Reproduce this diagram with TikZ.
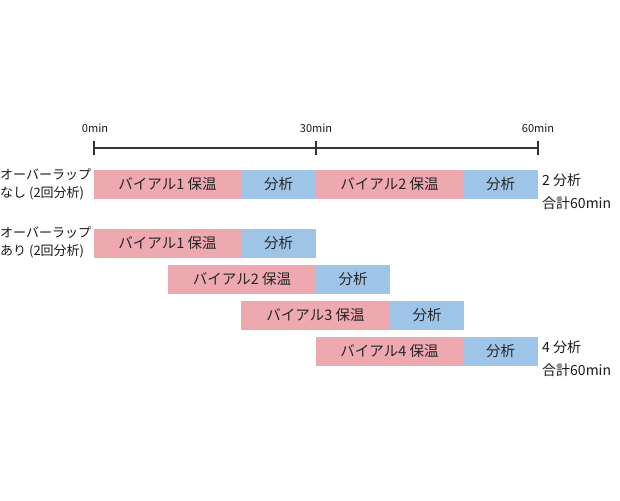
\documentclass[tikz,border=0pt]{standalone}
\usepackage{fontspec}
\setmainfont{Noto Sans CJK JP}
\begin{document}
\begin{tikzpicture}[x=1pt,y=-1pt,
  bar/.style={draw=none,inner sep=0pt,minimum height=29pt,text=black!85,font=\fontsize{14.5}{16}\selectfont},
  warm/.style={bar,fill=pinkc},
  ana/.style={bar,fill=bluec},
  lbl/.style={text=black!90,font=\fontsize{13}{18}\selectfont,inner sep=0pt,align=left},
  sum/.style={text=black!90,font=\fontsize{14}{22.5}\selectfont,inner sep=0pt,align=left},
  tick/.style={text=black!90,font=\fontsize{11}{12}\selectfont,inner sep=0pt}]
\definecolor{pinkc}{RGB}{238,168,176}
\definecolor{bluec}{RGB}{158,196,232}
\useasboundingbox[fill=white] (0,0) rectangle (620,500);
% axis
\coordinate (a0) at (94,148);
\coordinate (a30) at (316,148);
\coordinate (a60) at (538,148);
\draw[line width=1.3pt,black!80] (a0) -- (a60);
\foreach \c in {a0,a30,a60}{\draw[line width=1.3pt,black!80] ([yshift=-7pt]\c) -- ([yshift=7pt]\c);}
\node[tick] (t0) at (95,128) {0min};
\node[tick] (t30) at (316,128) {30min};
\node[tick] (t60) at (538,128) {60min};
% row 1
\node[warm,minimum width=147pt] (r1a) at (167.5,184.5) {バイアル1 保温};
\node[ana,minimum width=75pt] (r1b) at (278.5,184.5) {分析};
\node[warm,minimum width=147pt] (r1c) at (389.5,184.5) {バイアル2 保温};
\node[ana,minimum width=75pt] (r1d) at (500.5,184.5) {分析};
% row 2
\node[warm,minimum width=147pt] (r2a) at (167.5,243) {バイアル1 保温};
\node[ana,minimum width=75pt] (r2b) at (278.5,243) {分析};
% row 3
\node[warm,minimum width=148pt] (r3a) at (242,279) {バイアル2 保温};
\node[ana,minimum width=74pt] (r3b) at (353,279) {分析};
% row 4
\node[warm,minimum width=149pt] (r4a) at (315.5,315) {バイアル3 保温};
\node[ana,minimum width=74pt] (r4b) at (427,315) {分析};
% row 5
\node[warm,minimum width=147pt] (r5a) at (389.5,351) {バイアル4 保温};
\node[ana,minimum width=75pt] (r5b) at (500.5,351) {分析};
% left labels
\node[lbl,anchor=west] (l1) at (0,184) {オーバーラップ\\なし (2回分析)};
\node[lbl,anchor=west] (l2) at (0,242.5) {オーバーラップ\\あり (2回分析)};
% right labels
\node[sum,anchor=west] (s1) at (542,191.5) {2 分析\\合計60min};
\node[sum,anchor=west] (s2) at (542,358.5) {4 分析\\合計60min};
\end{tikzpicture}
\end{document}
